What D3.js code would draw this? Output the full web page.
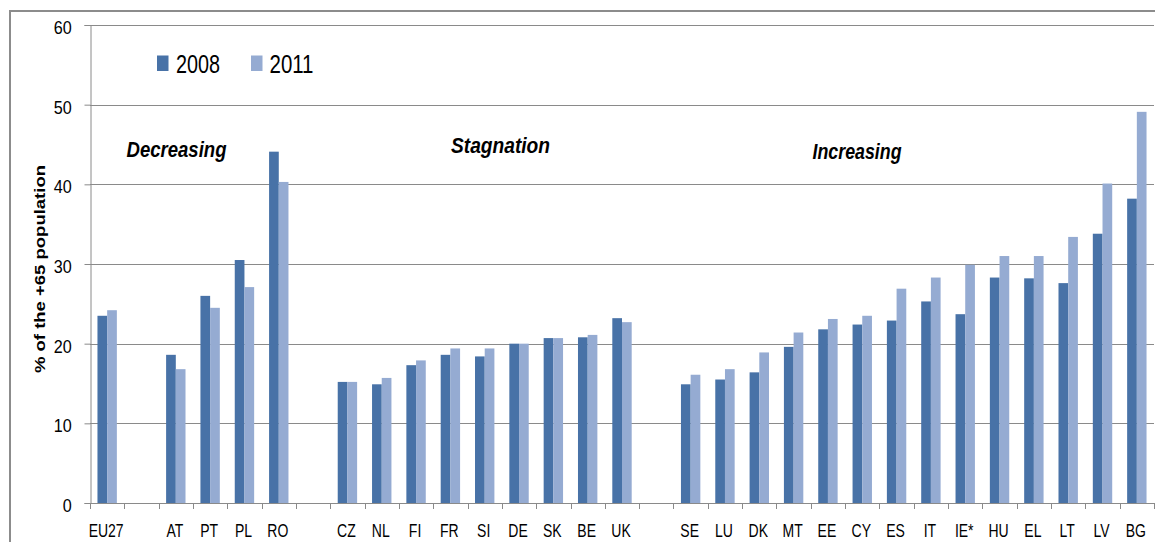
<!DOCTYPE html>
<html>
<head>
<meta charset="utf-8">
<script src="https://cdn.jsdelivr.net/npm/d3@7"></script>
<style>
  html, body { margin: 0; padding: 0; background: #fff; }
  svg { display: block; }
  text { font-family: "Liberation Sans", Arial, sans-serif; fill: #000; }
</style>
</head>
<body>
<script>
// ---- data ----
const categories = ["EU27", "", "AT", "PT", "PL", "RO", "", "CZ", "NL", "FI", "FR", "SI", "DE", "SK", "BE", "UK", "",
  "SE", "LU", "DK", "MT", "EE", "CY", "ES", "IT", "IE*", "HU", "EL", "LT", "LV", "BG"];
const values2008 = [23.5, null, 18.6, 26.0, 30.5, 44.1, null, 15.2, 14.9, 17.3, 18.6, 18.4, 20.0, 20.7, 20.8, 23.2, null,
  14.9, 15.5, 16.4, 19.6, 21.8, 22.4, 22.9, 25.3, 23.7, 28.3, 28.2, 27.6, 33.8, 38.2];
const values2011 = [24.2, null, 16.8, 24.5, 27.1, 40.3, null, 15.2, 15.7, 17.9, 19.4, 19.4, 20.0, 20.7, 21.1, 22.7, null,
  16.1, 16.8, 18.9, 21.4, 23.1, 23.5, 26.9, 28.3, 29.9, 31.0, 31.0, 33.4, 40.1, 49.1];
const seriesNames = ["2008", "2011"];
const yTicks = [0, 10, 20, 30, 40, 50, 60];
const groupLabels = ["Decreasing", "Stagnation", "Increasing"];
const yTitle = "% of the +65 population";

// ---- layout ----
const W = 1155, H = 542;
const plot = { left: 90, right: 1154, top: 25, bottom: 503 };
const colors = ["#4872A7", "#95ABD2"];
const gridColor = "#8a8a8a";

const svg = d3.select("body").append("svg").attr("width", W).attr("height", H);

// outer frame
svg.append("rect").attr("x", 10).attr("y", 11).attr("width", W + 20).attr("height", H + 20)
  .attr("fill", "none").attr("stroke", "#8c8c8c").attr("stroke-width", 2);

const x = d3.scaleBand().domain(d3.range(categories.length))
  .range([plot.left, plot.right]).paddingInner(0.435).paddingOuter(0.2175);
const xs = d3.scaleBand().domain([0, 1]).range([0, x.bandwidth()]);
const y = d3.scaleLinear().domain([0, 60]).range([plot.bottom, plot.top]);

// gridlines
svg.append("g").selectAll("line").data(yTicks.filter(d => d > 0)).join("line")
  .attr("x1", plot.left).attr("x2", plot.right)
  .attr("y1", d => Math.round(y(d)) + 0.5).attr("y2", d => Math.round(y(d)) + 0.5)
  .attr("stroke", gridColor).attr("stroke-width", 1);

// y axis
const yAxis = svg.append("g").attr("transform", `translate(${plot.left + 0.5},0)`)
  .call(d3.axisLeft(y).tickValues(yTicks).tickSize(6).tickPadding(16).tickFormat(d3.format("d")));
yAxis.select(".domain").attr("stroke", gridColor);
yAxis.selectAll(".tick line").attr("stroke", gridColor);
yAxis.selectAll(".tick text").attr("font-size", 19).attr("dy", "0.45em")
  .attr("transform", "scale(0.85,1)")
  .attr("font-family", "'Liberation Sans', Arial, sans-serif").attr("fill", "#000");

// bars
const seriesData = [values2008, values2011];
seriesData.forEach((vals, si) => {
  svg.append("g").selectAll("rect")
    .data(vals.map((v, i) => ({ i, v })).filter(d => d.v != null))
    .join("rect")
    .attr("x", d => x(d.i) + xs(si))
    .attr("width", xs.bandwidth())
    .attr("y", d => y(d.v))
    .attr("height", d => y(0) - y(d.v))
    .attr("fill", colors[si]);
});

// x axis
const step = x.step();
const xa = svg.append("g");
xa.append("line").attr("x1", plot.left).attr("x2", plot.right)
  .attr("y1", plot.bottom + 0.5).attr("y2", plot.bottom + 0.5).attr("stroke", gridColor);
xa.selectAll("line.tk").data(d3.range(categories.length + 1)).join("line").attr("class", "tk")
  .attr("x1", i => Math.round(plot.left + i * step) + 0.5).attr("x2", i => Math.round(plot.left + i * step) + 0.5)
  .attr("y1", plot.bottom).attr("y2", plot.bottom + 6).attr("stroke", gridColor);
xa.selectAll("g.lbl").data(categories.map((c, i) => ({ c, i })).filter(d => d.c)).join("g").attr("class", "lbl")
  .attr("transform", d => `translate(${x(d.i) + x.bandwidth() / 2 - 1},537) scale(0.8,1)`)
  .append("text").attr("text-anchor", "middle").attr("font-size", 17.5).text(d => d.c);

// y title
svg.append("text")
  .attr("transform", `translate(45,269) rotate(-90)`)
  .attr("text-anchor", "middle").attr("font-size", 14).attr("font-weight", "bold")
  .attr("textLength", 208).attr("lengthAdjust", "spacingAndGlyphs")
  .text(yTitle);

// legend
const legendPos = [{ rx: 157, tx: 176 }, { rx: 251, tx: 269.5 }];
seriesNames.forEach((name, i) => {
  svg.append("rect").attr("x", legendPos[i].rx).attr("y", 55.5).attr("width", 11.5).attr("height", 15.5)
    .attr("fill", colors[i]);
  svg.append("text").attr("x", legendPos[i].tx).attr("y", 73).attr("font-size", 26)
    .attr("textLength", 44).attr("lengthAdjust", "spacingAndGlyphs").text(name);
});

// group labels
const groupPos = [{ x: 126.5, y: 157, w: 100 }, { x: 451, y: 153.3, w: 99 }, { x: 812.5, y: 159, w: 89 }];
groupLabels.forEach((g, i) => {
  svg.append("text").attr("x", groupPos[i].x).attr("y", groupPos[i].y)
    .attr("font-size", 22).attr("font-weight", "bold").attr("font-style", "italic")
    .attr("textLength", groupPos[i].w).attr("lengthAdjust", "spacingAndGlyphs").text(g);
});
</script>
</body>
</html>
